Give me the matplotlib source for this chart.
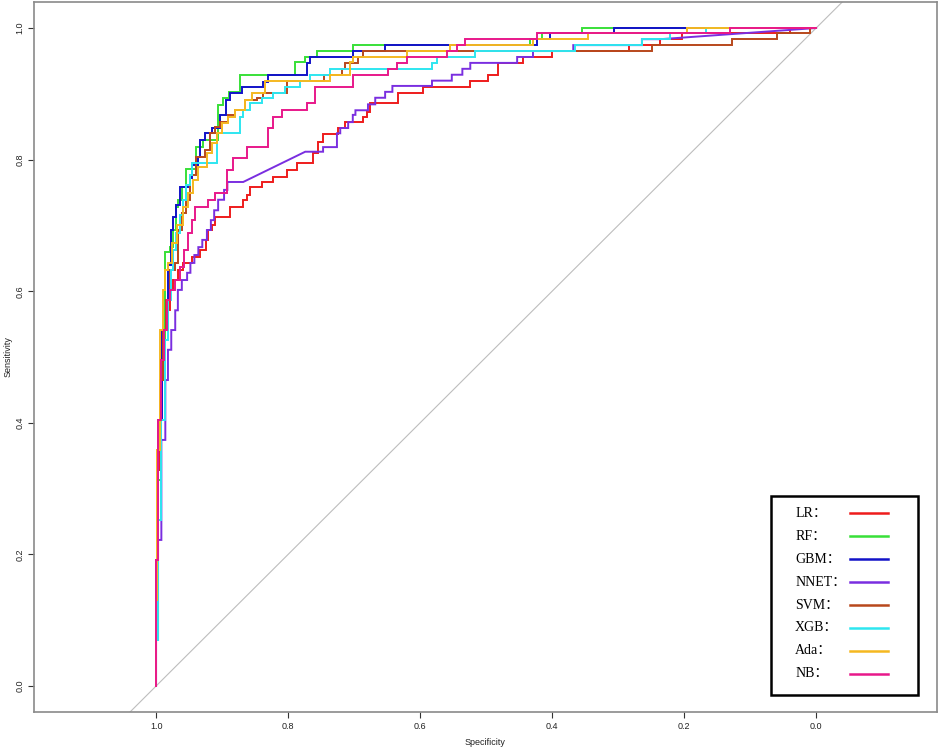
import matplotlib
matplotlib.use("Agg")
import matplotlib.pyplot as plt
from matplotlib.patches import Rectangle

plt.rcParams["font.family"] = ["Liberation Sans", "DejaVu Sans"]

model_names = ["LR", "RF", "GBM", "NNET", "SVM", "XGB", "Ada", "NB"]
model_colors = ["#ee1c1c", "#38e038", "#1212c8", "#7a2ee0", "#b8481c", "#2ee6f0", "#f5b820", "#e8188a"]

# ROC points (specificity, sensitivity)
lr_roc = [
    (1.000, 0.000), (1.000, 0.131), (0.997, 0.131), (0.997, 0.328), (0.994, 0.328), (0.994, 0.465),
    (0.989, 0.465), (0.989, 0.541), (0.985, 0.541), (0.985, 0.571), (0.979, 0.571), (0.979, 0.602),
    (0.974, 0.602), (0.974, 0.617), (0.967, 0.617), (0.967, 0.632), (0.959, 0.632), (0.959, 0.643),
    (0.945, 0.643), (0.945, 0.652), (0.933, 0.652), (0.933, 0.663), (0.924, 0.663), (0.924, 0.678),
    (0.921, 0.678), (0.921, 0.693), (0.915, 0.693), (0.915, 0.701), (0.911, 0.701), (0.911, 0.713),
    (0.888, 0.713), (0.888, 0.728), (0.868, 0.728), (0.868, 0.739), (0.862, 0.739), (0.862, 0.746),
    (0.858, 0.746), (0.858, 0.758), (0.839, 0.758), (0.839, 0.766), (0.823, 0.766), (0.823, 0.774),
    (0.802, 0.774), (0.802, 0.784), (0.786, 0.784), (0.786, 0.795), (0.762, 0.795), (0.762, 0.810),
    (0.755, 0.810), (0.755, 0.827), (0.747, 0.827), (0.747, 0.839), (0.724, 0.839), (0.724, 0.848),
    (0.714, 0.848), (0.714, 0.857), (0.686, 0.857), (0.686, 0.865), (0.680, 0.865), (0.680, 0.872),
    (0.676, 0.872), (0.676, 0.886), (0.633, 0.886), (0.633, 0.901), (0.595, 0.901), (0.595, 0.910),
    (0.524, 0.910), (0.524, 0.920), (0.497, 0.920), (0.497, 0.929), (0.482, 0.929), (0.482, 0.947),
    (0.444, 0.947), (0.444, 0.956), (0.400, 0.956), (0.400, 0.965), (0.283, 0.965), (0.283, 0.974),
    (0.236, 0.974), (0.236, 0.983), (0.203, 0.983), (0.203, 0.992), (0.039, 0.992), (0.039, 1.000),
    (0.000, 1.000),
]

rf_roc = [
    (1.000, 0.000), (1.000, 0.131), (0.997, 0.131), (0.997, 0.313), (0.992, 0.313), (0.992, 0.511),
    (0.986, 0.511), (0.986, 0.660), (0.979, 0.660), (0.979, 0.667), (0.974, 0.667), (0.974, 0.693),
    (0.970, 0.693), (0.970, 0.728), (0.967, 0.728), (0.967, 0.739), (0.961, 0.739), (0.961, 0.758),
    (0.955, 0.758), (0.955, 0.786), (0.939, 0.786), (0.939, 0.819), (0.929, 0.819), (0.929, 0.830),
    (0.906, 0.830), (0.906, 0.883), (0.898, 0.883), (0.898, 0.894), (0.889, 0.894), (0.889, 0.903),
    (0.873, 0.903), (0.873, 0.929), (0.789, 0.929), (0.789, 0.948), (0.774, 0.948), (0.774, 0.956),
    (0.756, 0.956), (0.756, 0.965), (0.702, 0.965), (0.702, 0.974), (0.433, 0.974), (0.433, 0.983),
    (0.415, 0.983), (0.415, 0.992), (0.355, 0.992), (0.355, 1.000), (0.000, 1.000),
]

gbm_roc = [
    (1.000, 0.000), (1.000, 0.191), (0.997, 0.191), (0.997, 0.404), (0.991, 0.404), (0.991, 0.541),
    (0.982, 0.541), (0.982, 0.640), (0.977, 0.640), (0.977, 0.693), (0.974, 0.693), (0.974, 0.713),
    (0.970, 0.713), (0.970, 0.731), (0.964, 0.731), (0.964, 0.758), (0.948, 0.758), (0.948, 0.772),
    (0.945, 0.772), (0.945, 0.792), (0.936, 0.792), (0.936, 0.804), (0.933, 0.804), (0.933, 0.830),
    (0.926, 0.830), (0.926, 0.840), (0.915, 0.840), (0.915, 0.848), (0.903, 0.848), (0.903, 0.868),
    (0.894, 0.868), (0.894, 0.891), (0.888, 0.891), (0.888, 0.901), (0.870, 0.901), (0.870, 0.910),
    (0.838, 0.910), (0.838, 0.918), (0.830, 0.918), (0.830, 0.929), (0.771, 0.929), (0.771, 0.947),
    (0.767, 0.947), (0.767, 0.956), (0.702, 0.956), (0.702, 0.965), (0.653, 0.965), (0.653, 0.974),
    (0.423, 0.974), (0.423, 0.983), (0.403, 0.983), (0.403, 0.992), (0.306, 0.992), (0.306, 1.000),
    (0.000, 1.000),
]

nnet_roc = [
    (1.000, 0.000), (1.000, 0.070), (0.997, 0.070), (0.997, 0.222), (0.992, 0.222), (0.992, 0.374),
    (0.986, 0.374), (0.986, 0.465), (0.982, 0.465), (0.982, 0.511), (0.977, 0.511), (0.977, 0.541),
    (0.971, 0.541), (0.971, 0.571), (0.967, 0.571), (0.967, 0.602), (0.961, 0.602), (0.961, 0.617),
    (0.953, 0.617), (0.953, 0.628), (0.948, 0.628), (0.948, 0.643), (0.942, 0.643), (0.942, 0.655),
    (0.936, 0.655), (0.936, 0.667), (0.930, 0.667), (0.930, 0.678), (0.923, 0.678), (0.923, 0.693),
    (0.917, 0.693), (0.917, 0.708), (0.912, 0.708), (0.912, 0.723), (0.906, 0.723), (0.906, 0.739),
    (0.897, 0.739), (0.897, 0.754), (0.892, 0.754), (0.892, 0.766), (0.868, 0.766), (0.774, 0.812),
    (0.747, 0.812), (0.747, 0.819), (0.726, 0.819), (0.726, 0.840), (0.721, 0.840), (0.721, 0.848),
    (0.709, 0.848), (0.709, 0.857), (0.702, 0.857), (0.702, 0.868), (0.698, 0.868), (0.698, 0.875),
    (0.679, 0.875), (0.679, 0.884), (0.668, 0.884), (0.668, 0.894), (0.653, 0.894), (0.653, 0.903),
    (0.642, 0.903), (0.642, 0.912), (0.582, 0.912), (0.582, 0.920), (0.552, 0.920), (0.552, 0.929),
    (0.536, 0.929), (0.536, 0.938), (0.524, 0.938), (0.524, 0.947), (0.453, 0.947), (0.453, 0.956),
    (0.429, 0.956), (0.429, 0.965), (0.368, 0.965), (0.368, 0.974), (0.264, 0.974), (0.264, 0.983),
    (0.236, 0.983), (0.000, 1.000),
]

svm_roc = [
    (1.000, 0.000), (1.000, 0.100), (0.997, 0.100), (0.997, 0.328), (0.992, 0.328), (0.992, 0.465),
    (0.989, 0.465), (0.989, 0.541), (0.985, 0.541), (0.985, 0.587), (0.979, 0.587), (0.979, 0.632),
    (0.971, 0.632), (0.971, 0.643), (0.967, 0.643), (0.967, 0.693), (0.961, 0.693), (0.961, 0.719),
    (0.955, 0.719), (0.955, 0.739), (0.948, 0.739), (0.948, 0.777), (0.939, 0.777), (0.939, 0.804),
    (0.926, 0.804), (0.926, 0.815), (0.918, 0.815), (0.918, 0.840), (0.911, 0.840), (0.911, 0.850),
    (0.903, 0.850), (0.903, 0.857), (0.891, 0.857), (0.891, 0.868), (0.880, 0.868), (0.880, 0.875),
    (0.865, 0.875), (0.865, 0.891), (0.847, 0.891), (0.847, 0.894), (0.838, 0.894), (0.838, 0.901),
    (0.802, 0.901), (0.802, 0.920), (0.745, 0.920), (0.745, 0.929), (0.718, 0.929), (0.718, 0.938),
    (0.714, 0.938), (0.714, 0.947), (0.694, 0.947), (0.694, 0.956), (0.686, 0.956), (0.686, 0.965),
    (0.248, 0.965), (0.248, 0.974), (0.127, 0.974), (0.127, 0.983), (0.059, 0.983), (0.059, 0.992),
    (0.009, 0.992), (0.009, 1.000), (0.000, 1.000),
]

xgb_roc = [
    (1.000, 0.000), (1.000, 0.070), (0.997, 0.070), (0.997, 0.252), (0.992, 0.252), (0.992, 0.404),
    (0.986, 0.404), (0.986, 0.526), (0.982, 0.526), (0.982, 0.587), (0.977, 0.587), (0.977, 0.632),
    (0.974, 0.632), (0.974, 0.663), (0.970, 0.663), (0.970, 0.688), (0.964, 0.688), (0.964, 0.716),
    (0.959, 0.716), (0.959, 0.739), (0.955, 0.739), (0.955, 0.761), (0.948, 0.761), (0.948, 0.777),
    (0.945, 0.777), (0.945, 0.795), (0.908, 0.795), (0.908, 0.840), (0.873, 0.840), (0.873, 0.865),
    (0.868, 0.865), (0.868, 0.875), (0.858, 0.875), (0.858, 0.886), (0.839, 0.886), (0.839, 0.894),
    (0.823, 0.894), (0.823, 0.901), (0.805, 0.901), (0.805, 0.910), (0.782, 0.910), (0.782, 0.920),
    (0.767, 0.920), (0.767, 0.929), (0.736, 0.929), (0.736, 0.938), (0.582, 0.938), (0.582, 0.947),
    (0.574, 0.947), (0.574, 0.956), (0.517, 0.956), (0.517, 0.965), (0.365, 0.965), (0.365, 0.974),
    (0.264, 0.974), (0.264, 0.983), (0.221, 0.983), (0.221, 0.992), (0.167, 0.992), (0.167, 1.000),
    (0.000, 1.000),
]

ada_roc = [
    (1.000, 0.000), (1.000, 0.131), (0.998, 0.131), (0.998, 0.359), (0.994, 0.359), (0.994, 0.541),
    (0.989, 0.541), (0.989, 0.602), (0.986, 0.602), (0.986, 0.632), (0.982, 0.632), (0.982, 0.643),
    (0.976, 0.643), (0.976, 0.673), (0.968, 0.673), (0.968, 0.701), (0.959, 0.701), (0.959, 0.728),
    (0.952, 0.728), (0.952, 0.749), (0.944, 0.749), (0.944, 0.769), (0.936, 0.769), (0.936, 0.789),
    (0.923, 0.789), (0.923, 0.810), (0.915, 0.810), (0.915, 0.825), (0.908, 0.825), (0.908, 0.840),
    (0.900, 0.840), (0.900, 0.856), (0.891, 0.856), (0.891, 0.865), (0.880, 0.865), (0.880, 0.875),
    (0.865, 0.875), (0.865, 0.891), (0.855, 0.891), (0.855, 0.901), (0.835, 0.901), (0.835, 0.920),
    (0.736, 0.920), (0.736, 0.929), (0.706, 0.929), (0.706, 0.948), (0.702, 0.948), (0.702, 0.956),
    (0.620, 0.956), (0.620, 0.965), (0.555, 0.965), (0.555, 0.974), (0.429, 0.974), (0.429, 0.983),
    (0.345, 0.983), (0.345, 0.992), (0.195, 0.992), (0.195, 1.000), (0.000, 1.000),
]

nb_roc = [
    (1.000, 0.000), (1.000, 0.191), (0.997, 0.191), (0.997, 0.404), (0.992, 0.404), (0.992, 0.495),
    (0.988, 0.495), (0.988, 0.541), (0.983, 0.541), (0.983, 0.587), (0.979, 0.587), (0.979, 0.602),
    (0.971, 0.602), (0.971, 0.617), (0.964, 0.617), (0.964, 0.637), (0.958, 0.637), (0.958, 0.663),
    (0.952, 0.663), (0.952, 0.688), (0.945, 0.688), (0.945, 0.708), (0.941, 0.708), (0.941, 0.728),
    (0.921, 0.728), (0.921, 0.739), (0.911, 0.739), (0.911, 0.749), (0.892, 0.749), (0.892, 0.784),
    (0.883, 0.784), (0.883, 0.802), (0.862, 0.802), (0.862, 0.819), (0.830, 0.819), (0.830, 0.848),
    (0.823, 0.848), (0.823, 0.865), (0.809, 0.865), (0.809, 0.875), (0.771, 0.875), (0.771, 0.886),
    (0.759, 0.886), (0.759, 0.910), (0.702, 0.910), (0.702, 0.929), (0.648, 0.929), (0.648, 0.938),
    (0.635, 0.938), (0.635, 0.947), (0.620, 0.947), (0.620, 0.956), (0.559, 0.956), (0.559, 0.965),
    (0.544, 0.965), (0.544, 0.974), (0.532, 0.974), (0.532, 0.983), (0.423, 0.983), (0.423, 0.992),
    (0.130, 0.992), (0.130, 1.000), (0.000, 1.000),
]

roc_curves = [lr_roc, rf_roc, gbm_roc, nnet_roc, svm_roc, xgb_roc, ada_roc, nb_roc]
tick_values = [1.0, 0.8, 0.6, 0.4, 0.2, 0.0]
tick_labels = ["1.0", "0.8", "0.6", "0.4", "0.2", "0.0"]

fig = plt.figure(figsize=(9.41, 7.48), dpi=100)
ax = fig.add_axes([0.0361, 0.0481, 0.9596, 0.9492])
ax.set_xlim(1.185, -0.183)
ax.set_ylim(-0.0395, 1.0395)

# chance line
ax.axline((1.0, 0.0), (0.0, 1.0), color="#bdbdbd", linewidth=0.8, zorder=1)

for pts, color in zip(roc_curves, model_colors):
    spec, sens = zip(*pts)
    ax.plot(spec, sens, color=color, linewidth=1.4, solid_joinstyle="miter", zorder=2)

ax.set_xticks(tick_values)
ax.set_xticklabels(tick_labels)
ax.set_yticks(tick_values)
ax.set_yticklabels(tick_labels, rotation=90, va="center")
ax.tick_params(length=4, width=0.8, labelsize=6.5, pad=3, color="#333333", labelcolor="#222222")
ax.set_xlabel("Specificity", fontsize=6.5, labelpad=5, color="#222222")
ax.set_ylabel("Sensitivity", fontsize=6.5, labelpad=2, color="#222222")
for sp in ax.spines.values():
    sp.set_color("#8a8a8a")
    sp.set_linewidth(1.2)

# legend drawn by hand: text left, line sample right
ax.add_patch(Rectangle((0.816, 0.024), 0.163, 0.280, transform=ax.transAxes,
                       fill=False, edgecolor="black", linewidth=1.8, zorder=5))
for i, (name, color) in enumerate(zip(model_names, model_colors)):
    y = 0.280 - i * 0.0323
    ax.text(0.843, y, name + "\uff1a", transform=ax.transAxes, fontsize=10,
            family=["Liberation Serif", "Noto Sans CJK SC"], va="center", ha="left", zorder=6)
    ax.plot([0.904, 0.946], [y, y], transform=ax.transAxes, color=color,
            linewidth=1.8, zorder=6)

fig.savefig("out.png", dpi=100)
